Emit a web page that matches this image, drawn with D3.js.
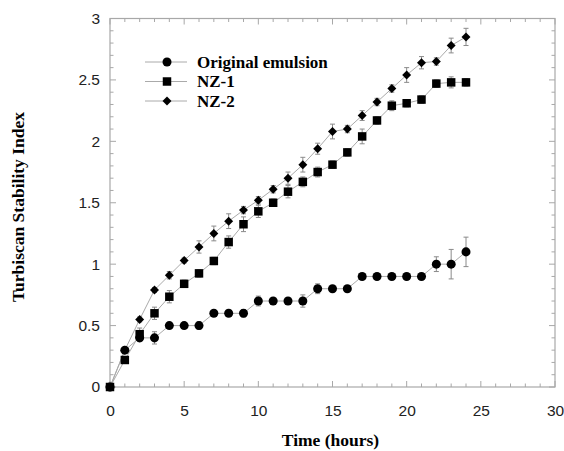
<!DOCTYPE html>
<html>
<head>
<meta charset="utf-8">
<script src="https://cdn.jsdelivr.net/npm/d3@7"></script>
<style>
  body { margin: 0; background: #fff; }
  svg { display: block; }
</style>
</head>
<body>
<script>
const hours = [0,1,2,3,4,5,6,7,8,9,10,11,12,13,14,15,16,17,18,19,20,21,22,23,24];

const original = [0,0.3,0.4,0.4,0.5,0.5,0.5,0.6,0.6,0.6,0.7,0.7,0.7,0.7,0.8,0.8,0.8,0.9,0.9,0.9,0.9,0.9,1.0,1.0,1.1];
const originalErr = [0,0.02,0.03,0.05,0.02,0.02,0.03,0.02,0.02,0.03,0.04,0.02,0.02,0.05,0.04,0.02,0.02,0.02,0.02,0.02,0.02,0.02,0.06,0.12,0.12];

const nz1 = [0,0.22,0.43,0.6,0.735,0.84,0.925,1.026,1.18,1.325,1.43,1.5,1.59,1.67,1.75,1.81,1.91,2.04,2.17,2.29,2.31,2.34,2.47,2.48,2.48];
const nz1Err = [0,0.02,0.05,0.05,0.05,0.03,0.03,0.03,0.05,0.06,0.05,0.03,0.05,0.04,0.04,0.03,0.03,0.06,0.03,0.04,0.03,0.03,0.03,0.045,0.03];

const nz2 = [0,0.3,0.55,0.79,0.91,1.03,1.14,1.25,1.35,1.44,1.52,1.61,1.7,1.81,1.94,2.08,2.1,2.21,2.32,2.43,2.54,2.64,2.65,2.78,2.85];
const nz2Err = [0,0.02,0.02,0.02,0.03,0.02,0.05,0.06,0.06,0.03,0.03,0.03,0.05,0.06,0.045,0.06,0.03,0.04,0.03,0.03,0.06,0.05,0.03,0.06,0.07];

const seriesNames = ['Original emulsion', 'NZ-1', 'NZ-2'];
const xTicks = [0,5,10,15,20,25,30];
const yTicks = [0,0.5,1,1.5,2,2.5,3];

const box = { width: 564, height: 451, left: 110, right: 555, top: 18.5, bottom: 387 };

const svg = d3.select('body').append('svg')
    .attr('width', box.width)
    .attr('height', box.height);

const x = d3.scaleLinear().domain([0, 30]).range([box.left, box.right]);
const y = d3.scaleLinear().domain([0, 3]).range([box.bottom, box.top]);

const frameColor = '#a8a8a8';
const labelFont = '"Liberation Sans", Arial, sans-serif';
const titleFont = '"Liberation Serif", "Times New Roman", serif';

// marco
svg.append('rect')
   .attr('x', box.left).attr('y', box.top)
   .attr('width', box.right - box.left).attr('height', box.bottom - box.top)
   .attr('fill', 'none').attr('stroke', frameColor).attr('stroke-width', 1.2);

// ticks menores y mayores hacia dentro, en los cuatro lados
const xMinor = d3.range(0, 31, 1);
const yMinor = d3.range(0, 31, 1).map(d => d / 10);

const ticks = svg.append('g').attr('stroke', frameColor).attr('stroke-width', 1);
xMinor.forEach(v => {
    const len = v % 5 === 0 ? 6 : 3.5;
    ticks.append('line').attr('x1', x(v)).attr('x2', x(v)).attr('y1', box.bottom).attr('y2', box.bottom - len);
    ticks.append('line').attr('x1', x(v)).attr('x2', x(v)).attr('y1', box.top).attr('y2', box.top + len);
});
yMinor.forEach((v, i) => {
    const len = i % 5 === 0 ? 6 : 3.5;
    ticks.append('line').attr('y1', y(v)).attr('y2', y(v)).attr('x1', box.left).attr('x2', box.left + len);
    ticks.append('line').attr('y1', y(v)).attr('y2', y(v)).attr('x1', box.right).attr('x2', box.right - len);
});

// etiquetas de los ejes
const xAxis = d3.axisBottom(x).tickValues(xTicks).tickSize(0).tickPadding(18).tickFormat(d3.format('d'));
const yAxis = d3.axisLeft(y).tickValues(yTicks).tickSize(0).tickPadding(10).tickFormat(d => d);

svg.append('g').attr('transform', 'translate(0,' + box.bottom + ')').call(xAxis)
   .call(g => g.select('.domain').remove())
   .selectAll('text').attr('font-family', labelFont).attr('font-size', 15.5).attr('fill', '#222');

svg.append('g').attr('transform', 'translate(' + box.left + ',0)').call(yAxis)
   .call(g => g.select('.domain').remove())
   .selectAll('text').attr('font-family', labelFont).attr('font-size', 15.5).attr('fill', '#222');

svg.append('text')
   .attr('x', (box.left + box.right) / 2 - 2).attr('y', 446)
   .attr('text-anchor', 'middle')
   .attr('font-family', titleFont).attr('font-weight', 'bold').attr('font-size', 17.5)
   .text('Time (hours)');

svg.append('text')
   .attr('transform', 'translate(24,' + 207 + ') rotate(-90)')
   .attr('text-anchor', 'middle')
   .attr('font-family', titleFont).attr('font-weight', 'bold').attr('font-size', 17.5)
   .text('Turbiscan Stability Index');

// simbolos
const symbols = [
    d3.symbol().type(d3.symbolCircle).size(64),
    d3.symbol().type(d3.symbolSquare).size(72),
    d3.symbol().type(d3.symbolSquare).size(40)
];
const rot = [0, 0, 45];

const allSeries = [
    { values: original, err: originalErr },
    { values: nz1, err: nz1Err },
    { values: nz2, err: nz2Err }
];

const line = d3.line().x(d => x(d[0])).y(d => y(d[1]));

const plot = svg.append('g');

// lineas
allSeries.forEach(s => {
    plot.append('path')
        .datum(hours.map((h, i) => [h, s.values[i]]))
        .attr('d', line)
        .attr('fill', 'none')
        .attr('stroke', '#aaa')
        .attr('stroke-width', 1);
});

// barras de error
allSeries.forEach(s => {
    const g = plot.append('g').attr('stroke', '#8a8a8a').attr('stroke-width', 1);
    hours.forEach((h, i) => {
        const e = s.err[i];
        if (!e) return;
        const cx = x(h);
        const y1 = y(s.values[i] - e), y2 = y(s.values[i] + e);
        g.append('line').attr('x1', cx).attr('x2', cx).attr('y1', y1).attr('y2', y2);
        g.append('line').attr('x1', cx - 2.5).attr('x2', cx + 2.5).attr('y1', y1).attr('y2', y1);
        g.append('line').attr('x1', cx - 2.5).attr('x2', cx + 2.5).attr('y1', y2).attr('y2', y2);
    });
});

// marcadores (NZ-2 debajo para que el circulo de t=1 lo tape)
[2, 1, 0].forEach(k => {
    const s = allSeries[k];
    plot.append('g').selectAll('path')
        .data(hours.map((h, i) => [h, s.values[i]]))
        .enter()
        .append('path')
        .attr('transform', d => 'translate(' + x(d[0]) + ',' + y(d[1]) + ') rotate(' + rot[k] + ')')
        .attr('d', symbols[k])
        .attr('fill', '#000');
});

// leyenda
const legend = svg.append('g').attr('transform', 'translate(145,62)');
seriesNames.forEach((name, i) => {
    const row = legend.append('g').attr('transform', 'translate(0,' + (i * 19.5) + ')');
    row.append('line').attr('x1', 0).attr('x2', 42).attr('y1', 0).attr('y2', 0)
       .attr('stroke', '#aaa').attr('stroke-width', 1);
    row.append('path').attr('transform', 'translate(22,0) rotate(' + rot[i] + ')').attr('d', symbols[i]).attr('fill', '#000');
    row.append('text').attr('x', 52).attr('y', 0).attr('dy', '0.35em')
       .attr('font-family', titleFont).attr('font-weight', 'bold').attr('font-size', 17)
       .text(name);
});
</script>
</body>
</html>
